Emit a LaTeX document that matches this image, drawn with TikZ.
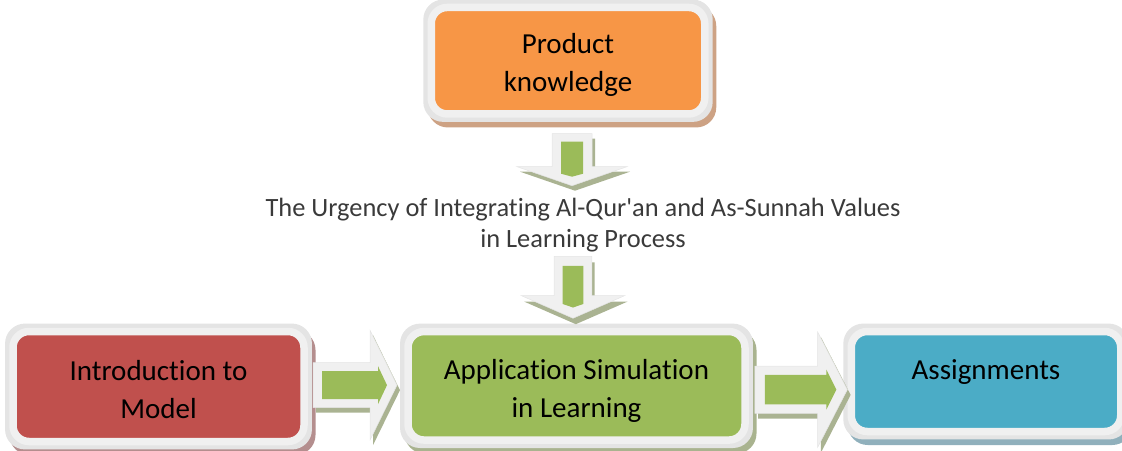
\documentclass[tikz,border=0pt]{standalone}
\usepackage{fontspec}
\setmainfont{Carlito}[Ligatures={TeXOff,CommonOff}]
\usetikzlibrary{calc,backgrounds}
\definecolor{rim}{HTML}{F0F0F0}
\definecolor{rimedge}{HTML}{E4E4E4}
\definecolor{orangefill}{HTML}{F79646}
\definecolor{orangeshadow}{HTML}{CDA284}
\definecolor{redfill}{HTML}{C0504D}
\definecolor{redshadow}{HTML}{B48E8E}
\definecolor{greenfill}{HTML}{9BBB59}
\definecolor{greenshadow}{HTML}{A9B38F}
\definecolor{bluefill}{HTML}{4BACC6}
\definecolor{blueshadow}{HTML}{90B0BC}
\definecolor{arrowshadow}{HTML}{AAB392}
\definecolor{captext}{HTML}{3A3A3A}
\newcommand{\linestrut}[1]{\rule{0pt}{#1}}
\tikzset{
  box/.style={rectangle, rounded corners=16pt, draw=rim, line width=7.5pt,
    align=center, inner sep=0pt, text=black,
    font=\fontsize{29}{38}\selectfont},
  rarrow/.pic={
    \fill[arrowshadow, shift={(3,5)}] (-42,-22.5) -- (15,-22.5) -- (15,-55) -- (42,0) -- (15,55) -- (15,22.5) -- (-42,22.5) -- cycle;
    \filldraw[fill=rim, draw=rimedge, line width=0.5pt] (-42,-22.5) -- (15,-22.5) -- (15,-55) -- (42,0) -- (15,55) -- (15,22.5) -- (-42,22.5) -- cycle;
    \fill[greenfill] (-33,-14) -- (23,-14) -- (23,-19) -- (32,0) -- (23,19) -- (23,14) -- (-33,14) -- cycle;
  },
  darrow/.pic={
    \fill[arrowshadow, shift={(3,5)}] (-20,-26) -- (20,-26) -- (20,7) -- (55,7) -- (0,26) -- (-55,7) -- (-20,7) -- cycle;
    \filldraw[fill=rim, draw=rimedge, line width=0.5pt] (-20,-26) -- (20,-26) -- (20,7) -- (55,7) -- (0,26) -- (-55,7) -- (-20,7) -- cycle;
    \fill[greenfill] (-11,-18) -- (11,-18) -- (11,14) -- (0,17) -- (-11,14) -- cycle;
  },
}
\begin{document}
\begin{tikzpicture}[x=1pt,y=-1pt]
\useasboundingbox (0,0) rectangle (1122,450);

% boxes
\node[box, fill=orangefill, minimum width=273.5pt, minimum height=106.5pt] (top) at (568,60.7) {\linestrut{29pt}Product\\knowledge};
\node[box, fill=redfill, minimum width=291pt, minimum height=110pt] (intro) at (158.5,386.5) {\linestrut{27pt}Introduction to\\Model};
\node[box, fill=greenfill, minimum width=337pt, minimum height=108.5pt] (app) at (576.5,385.8) {\linestrut{31pt}Application Simulation\\in Learning};
\node[box, fill=bluefill, minimum width=269.5pt, minimum height=100pt, text depth=24pt] (assign) at (986,381.5) {Assignments};

% caption
\node[align=center, inner sep=0pt, text=captext, font=\fontsize{26.4}{31}\selectfont] (cap) at (583,225.5)
  {The Urgency of Integrating Al-Qur'an and As-Sunnah Values\\in Learning Process};

% shadows and rim edges
\begin{scope}[on background layer]
  \foreach \n/\c in {top/orangeshadow, intro/redshadow, app/greenshadow, assign/blueshadow}{
    \fill[\c, rounded corners=20pt] ([shift={(0.25,2.25)}]\n.north west) rectangle ([shift={(7.75,9.75)}]\n.south east);
    \fill[rimedge, rounded corners=20pt] ([shift={(-4.2,-4.2)}]\n.north west) rectangle ([shift={(4.2,4.2)}]\n.south east);
  }
\end{scope}

% block arrows
\pic at ($(top.south)+(4,42)$) {darrow};
\pic[xscale=0.94, yscale=1.19] at ($(app.north)+(-3.5,-40.5)$) {darrow};
\pic at ($(intro.east)!0.5!(app.west)+(-1,-1)$) {rarrow};
\pic[xscale=1.1, yscale=1.05] at ($(app.east)!0.5!(assign.west)+(3,6)$) {rarrow};
\end{tikzpicture}
\end{document}
